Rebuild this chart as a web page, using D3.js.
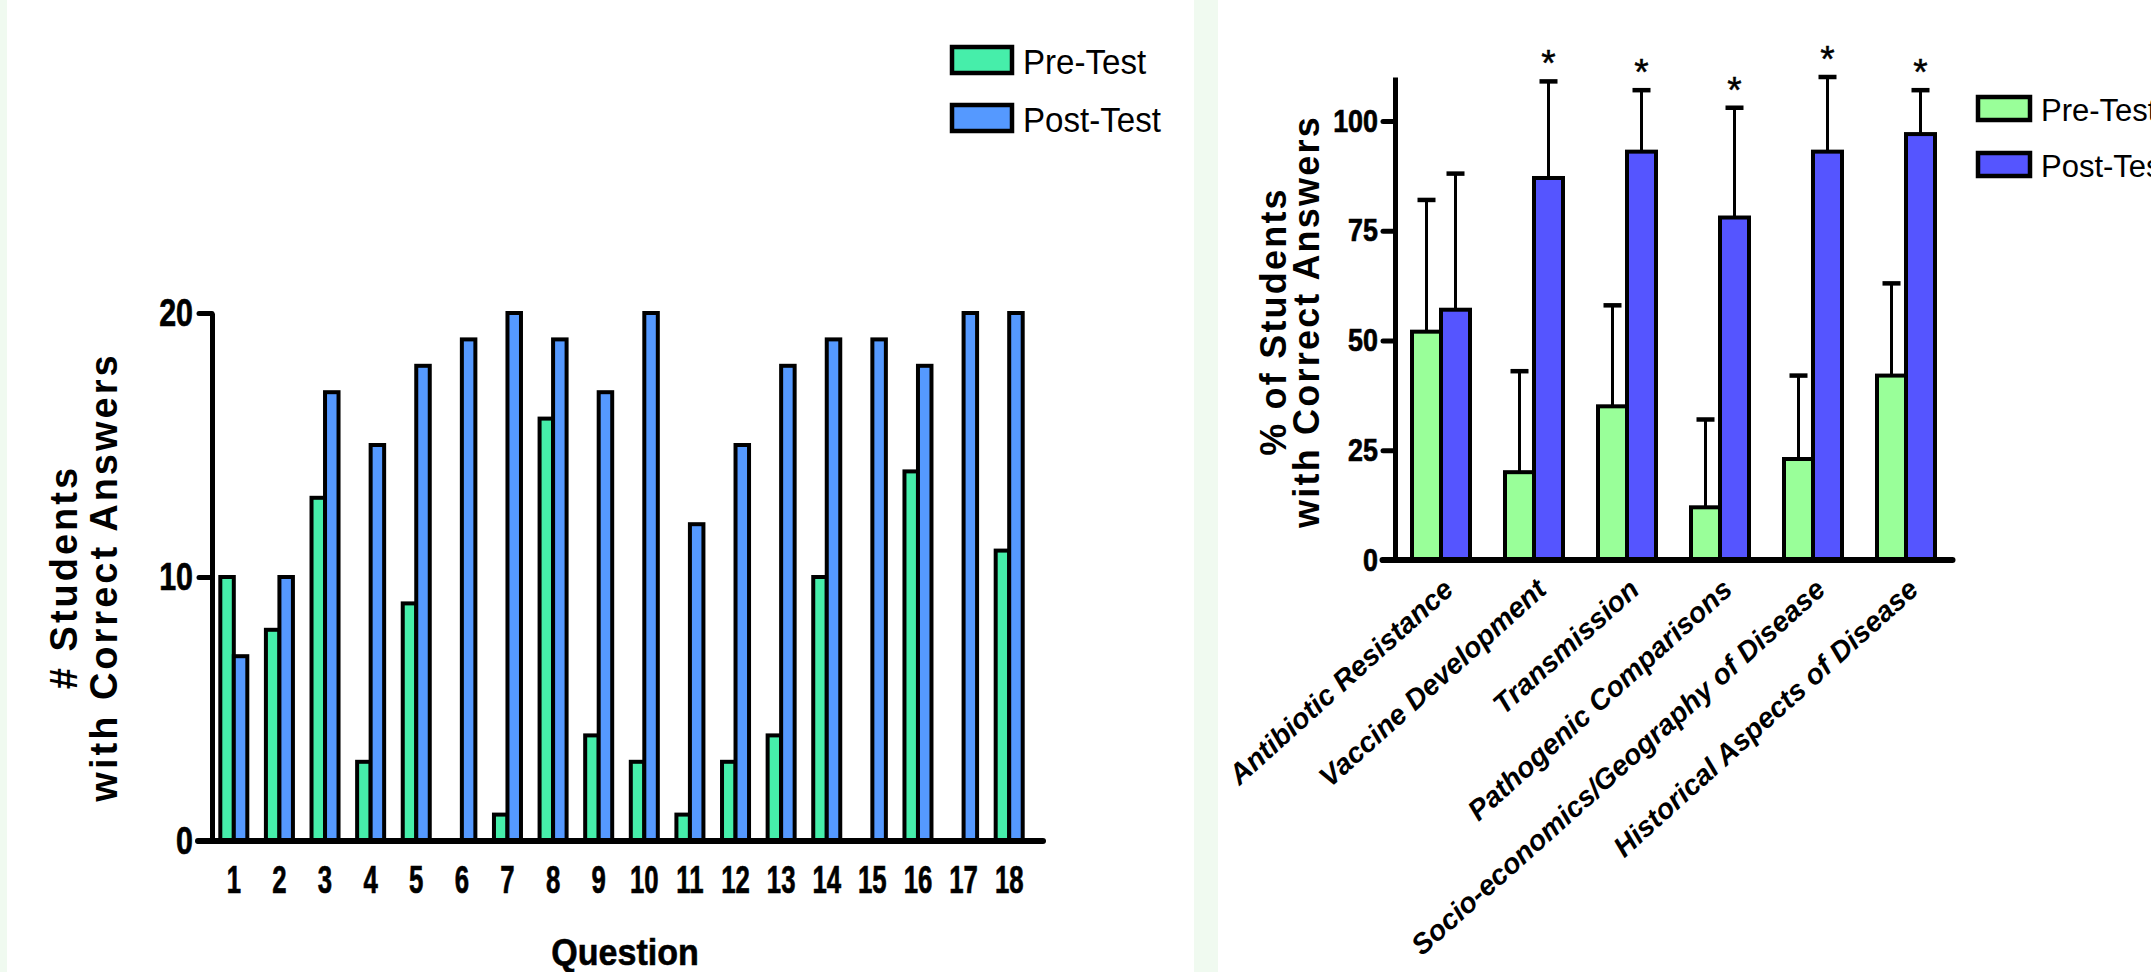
<!DOCTYPE html>
<html>
<head>
<meta charset="utf-8">
<title>Pre-Test vs Post-Test</title>
<script src="https://cdn.jsdelivr.net/npm/d3@7"></script>
<style>
  body { margin: 0; background: #fff; }
  svg { display: block; }
</style>
</head>
<body>
<script>

// left chart: number of students answering each question correctly
var questions = ["1","2","3","4","5","6","7","8","9","10","11","12","13","14","15","16","17","18"];
var preCounts  = [10, 8, 13, 3, 9, 0, 1, 16, 4, 3, 1, 3, 4, 10, 0, 14, 0, 11];
var postCounts = [7, 10, 17, 15, 18, 19, 20, 19, 17, 20, 12, 15, 18, 19, 19, 18, 20, 20];
var countTicks = [0, 10, 20];

// right chart: % of students by topic, mean + SD
var topics = ["Antibiotic Resistance", "Vaccine Development", "Transmission",
              "Pathogenic Comparisons", "Socio-economics/Geography of Disease",
              "Historical Aspects of Disease"];
var prePct  = [52, 20, 35, 12, 23, 42];
var preSD   = [30, 23, 23, 20, 19, 21];
var postPct = [57, 87, 93, 78, 93, 97];
var postSD  = [31, 22, 14, 25, 17, 10];
var starred = [false, true, true, true, true, true];
var pctTicks = [0, 25, 50, 75, 100];

var seriesNames = ["Pre-Test", "Post-Test"];
var leftColors  = ["#46eeaa", "#5599ff"];
var rightColors = ["#99ff99", "#5555ff"];

var W = 2151, H = 972;
var sans = "'Liberation Sans', Arial, sans-serif";

var svg = d3.select("body").append("svg")
    .attr("width", W).attr("height", H)
    .attr("viewBox", "0 0 " + W + " " + H);

// pale green page edges
svg.append("rect").attr("x", 0).attr("y", 0).attr("width", 7).attr("height", H).attr("fill", "#f0faf0");
svg.append("rect").attr("x", 1194).attr("y", 0).attr("width", 24).attr("height", H).attr("fill", "#f0faf0");

// no narrow font installed, so squeeze text horizontally (and thicken it a bit)
function condense(sel, sx) {
    sel.each(function() {
        var t = d3.select(this);
        var x = +t.attr("x") || 0;
        t.attr("x", 0).attr("transform", "translate(" + x + ",0) scale(" + sx + ",1)")
         .attr("stroke", "#000").attr("stroke-width", 0.7);
    });
}

function styleAxis(g, width) {
    g.select(".domain").attr("stroke", "#000").attr("stroke-width", width);
    g.selectAll(".tick line").attr("stroke", "#000").attr("stroke-width", width).attr("stroke-linecap", "round");
    g.selectAll(".tick text").attr("fill", "#000");
}

function drawLegend(g, colors, x, y0, gap, sw, sh, fs, sx) {
    seriesNames.forEach(function(name, i) {
        var y = y0 + i * gap;
        g.append("rect").attr("x", x).attr("y", y).attr("width", sw).attr("height", sh)
            .attr("fill", colors[i]).attr("stroke", "#000").attr("stroke-width", 4.5);
        g.append("text")
            .attr("transform", "translate(" + (x + sw + 11) + "," + (y + sh + 1) + ") scale(" + sx + ",1)")
            .attr("font-family", sans).attr("font-size", fs).attr("fill", "#000")
            .text(name);
    });
}

// ---------------- LEFT CHART ----------------
var left = svg.append("g");
var x1 = d3.scaleBand().domain(questions).range([211, 1032]).paddingInner(0.32).paddingOuter(0.16);
var y1 = d3.scaleLinear().domain([0, 20]).range([841, 313]);
var barW1 = (x1.bandwidth() - 4) / 2;

var rows1 = [];
questions.forEach(function(q, i) {
    rows1.push({q: q, s: 0, v: preCounts[i]});
    rows1.push({q: q, s: 1, v: postCounts[i]});
});

left.selectAll("rect.bar").data(rows1.filter(function(d) { return d.v > 0; }))
  .enter().append("rect").attr("class", "bar")
    .attr("x", function(d) { return x1(d.q) + 2 + d.s * barW1; })
    .attr("y", function(d) { return y1(d.v); })
    .attr("width", barW1)
    .attr("height", function(d) { return y1(0) - y1(d.v); })
    .attr("fill", function(d) { return leftColors[d.s]; })
    .attr("stroke", "#000").attr("stroke-width", 4);

var yAx1 = left.append("g").attr("transform", "translate(212,0)")
    .call(d3.axisLeft(y1).tickValues(countTicks).tickSize(13).tickSizeOuter(0).tickPadding(6));
styleAxis(yAx1, 5);
yAx1.selectAll(".tick text").attr("font-family", sans).attr("font-weight", "bold").attr("font-size", 38);
condense(yAx1.selectAll(".tick text"), 0.8);

// x axis line runs a little past the bars
left.append("line")
    .attr("x1", x1.range()[0] - 13).attr("x2", x1.range()[1] + 11)
    .attr("y1", y1(0)).attr("y2", y1(0))
    .attr("stroke", "#000").attr("stroke-width", 6).attr("stroke-linecap", "round");

var xAx1 = left.append("g").attr("transform", "translate(0," + y1(0) + ")")
    .call(d3.axisBottom(x1).tickSize(0).tickPadding(24));
xAx1.select(".domain").remove();
xAx1.selectAll(".tick text").attr("fill", "#000")
    .attr("font-family", sans).attr("font-weight", "bold").attr("font-size", 39);
condense(xAx1.selectAll(".tick text"), 0.66);

left.append("text").attr("transform", "translate(625,965) scale(0.92,1)").attr("text-anchor", "middle")
    .attr("font-family", sans).attr("font-weight", "bold").attr("font-size", 37)
    .attr("stroke", "#000").attr("stroke-width", 0.6)
    .text("Question");

var yc1 = (y1(0) + y1(20)) / 2;
left.append("text").attr("transform", "translate(77," + yc1 + ") rotate(-90)")
    .attr("text-anchor", "middle").attr("font-family", sans).attr("font-weight", "bold")
    .attr("font-size", 38).attr("letter-spacing", 3).text("# Students");
left.append("text").attr("transform", "translate(117," + yc1 + ") rotate(-90)")
    .attr("text-anchor", "middle").attr("font-family", sans).attr("font-weight", "bold")
    .attr("font-size", 38).attr("letter-spacing", 3).text("with Correct Answers");

drawLegend(left, leftColors, 952, 47, 58, 60, 26, 36, 0.92);

// ---------------- RIGHT CHART ----------------
var right = svg.append("g");
var x2 = d3.scaleBand().domain(topics).range([1394.5, 1952.5]).paddingInner(1 / 3).paddingOuter(1 / 6);
var y2 = d3.scaleLinear().domain([0, 110]).range([560, 77]);
var barW2 = (x2.bandwidth() - 4) / 2;

var rows2 = [];
topics.forEach(function(t, i) {
    rows2.push({t: t, s: 0, v: prePct[i], sd: preSD[i], star: false});
    rows2.push({t: t, s: 1, v: postPct[i], sd: postSD[i], star: starred[i]});
});
function cx2(d) { return x2(d.t) + 2 + d.s * barW2 + barW2 / 2; }

// error bars first so the bar outline covers the stem
right.selectAll("line.err").data(rows2).enter().append("line").attr("class", "err")
    .attr("x1", cx2).attr("x2", cx2)
    .attr("y1", function(d) { return y2(d.v); })
    .attr("y2", function(d) { return y2(d.v + d.sd); })
    .attr("stroke", "#000").attr("stroke-width", 3);
right.selectAll("line.cap").data(rows2).enter().append("line").attr("class", "cap")
    .attr("x1", function(d) { return cx2(d) - 9; }).attr("x2", function(d) { return cx2(d) + 9; })
    .attr("y1", function(d) { return y2(d.v + d.sd); })
    .attr("y2", function(d) { return y2(d.v + d.sd); })
    .attr("stroke", "#000").attr("stroke-width", 4.5);

right.selectAll("rect.bar").data(rows2).enter().append("rect").attr("class", "bar")
    .attr("x", function(d) { return x2(d.t) + 2 + d.s * barW2; })
    .attr("y", function(d) { return y2(d.v); })
    .attr("width", barW2)
    .attr("height", function(d) { return y2(0) - y2(d.v); })
    .attr("fill", function(d) { return rightColors[d.s]; })
    .attr("stroke", "#000").attr("stroke-width", 4);

right.selectAll("text.star").data(rows2.filter(function(d) { return d.star; }))
  .enter().append("text").attr("class", "star")
    .attr("x", cx2)
    .attr("y", function(d) { return y2(d.v + d.sd) - 5; })
    .attr("text-anchor", "middle").attr("font-family", sans).attr("font-size", 37)
    .attr("stroke", "#000").attr("stroke-width", 0.5)
    .text("*");

var yAx2 = right.append("g").attr("transform", "translate(1395,0)")
    .call(d3.axisLeft(y2).tickValues(pctTicks).tickSize(12).tickSizeOuter(0).tickPadding(5));
styleAxis(yAx2, 5);
yAx2.selectAll(".tick text").attr("font-family", sans).attr("font-weight", "bold").attr("font-size", 32);
condense(yAx2.selectAll(".tick text"), 0.84);

right.append("line")
    .attr("x1", x2.range()[0] - 12).attr("x2", x2.range()[1])
    .attr("y1", y2(0)).attr("y2", y2(0))
    .attr("stroke", "#000").attr("stroke-width", 6).attr("stroke-linecap", "round");

right.selectAll("text.topic").data(topics).enter().append("text").attr("class", "topic")
    .attr("transform", function(t) { return "translate(" + (x2(t) + x2.bandwidth() / 2 + 14) + ",592) rotate(-42)"; })
    .attr("text-anchor", "end").attr("font-family", sans).attr("font-weight", "bold")
    .attr("font-style", "italic").attr("font-size", 28.5)
    .text(function(t) { return t; });

var yc2 = (y2(0) + y2(110)) / 2 + 3;
right.append("text").attr("transform", "translate(1286," + yc2 + ") rotate(-90)")
    .attr("text-anchor", "middle").attr("font-family", sans).attr("font-weight", "bold")
    .attr("font-size", 36).attr("letter-spacing", 2.2).text("% of Students");
right.append("text").attr("transform", "translate(1319," + yc2 + ") rotate(-90)")
    .attr("text-anchor", "middle").attr("font-family", sans).attr("font-weight", "bold")
    .attr("font-size", 36).attr("letter-spacing", 2.2).text("with Correct Answers");

// legend runs off the right edge, as in the original figure
drawLegend(right, rightColors, 1978, 97, 56, 52, 23, 31, 1);

</script>
</body>
</html>
